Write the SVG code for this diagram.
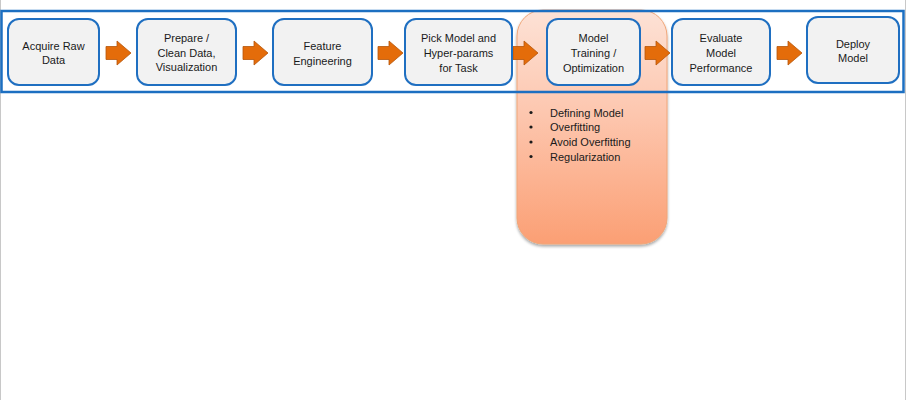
<svg xmlns="http://www.w3.org/2000/svg" width="907" height="400" viewBox="0 0 907 400">
<defs>
<linearGradient id="hl" x1="0" y1="0" x2="0" y2="1">
<stop offset="0" stop-color="#fde2d6"/>
<stop offset="0.45" stop-color="#fdc6ae"/>
<stop offset="1" stop-color="#fb9f74"/>
</linearGradient>
<filter id="sh" x="-10%" y="-10%" width="120%" height="120%">
<feGaussianBlur in="SourceAlpha" stdDeviation="1.5"/>
<feOffset dx="0" dy="2" result="b"/>
<feComponentTransfer><feFuncA type="linear" slope="0.35"/></feComponentTransfer>
<feMerge><feMergeNode/><feMergeNode in="SourceGraphic"/></feMerge>
</filter>
<path id="arr" d="M0,-6.5 H11 V-12 L25,0 L11,12 V6.5 H0 Z"/>
</defs>
<style>
.node rect{fill:#f2f2f2;stroke:#1f6fc1;stroke-width:2}
text{font-family:"Liberation Sans",Arial,sans-serif;font-size:11px;fill:#1a1a1a}
.c{text-anchor:middle}
.a use{fill:#e46c0a;stroke:#b5560a;stroke-width:0.8}
</style>
<rect x="0" y="0" width="907" height="400" fill="#ffffff"/>
<line x1="0.5" y1="0" x2="0.5" y2="400" stroke="#c8c8c8" stroke-width="1"/>
<line x1="905.5" y1="0" x2="905.5" y2="400" stroke="#c8c8c8" stroke-width="1"/>
<g id="highlight">
<rect x="517" y="10" width="150" height="234" rx="26" fill="url(#hl)" stroke="#f0a678" stroke-width="1" filter="url(#sh)"/>
<g id="bullets">
<circle cx="531" cy="112.5" r="1.6" fill="#1a1a1a"/>
<circle cx="531" cy="127" r="1.6" fill="#1a1a1a"/>
<circle cx="531" cy="142" r="1.6" fill="#1a1a1a"/>
<circle cx="531" cy="156.5" r="1.6" fill="#1a1a1a"/>
<text x="550" y="116.5">Defining Model</text>
<text x="550" y="131">Overfitting</text>
<text x="550" y="146">Avoid Overfitting</text>
<text x="550" y="160.5">Regularization</text>
</g>
</g>
<rect id="frame" x="1.5" y="11" width="902" height="81" fill="none" stroke="#1c6fc1" stroke-width="2.5"/>
<g id="connectors" class="a">
<use href="#arr" x="106" y="53"/>
<use href="#arr" x="243" y="53"/>
<use href="#arr" x="378" y="53"/>
<use href="#arr" x="513" y="53"/>
<use href="#arr" x="645" y="53"/>
<use href="#arr" x="777" y="53"/>
</g>
<g id="n1" class="node"><rect x="8" y="19" width="91" height="66" rx="11"/>
<text class="c" x="53.5" y="49.5">Acquire Raw</text><text class="c" x="53.5" y="64">Data</text></g>
<g id="n2" class="node"><rect x="137" y="19" width="99" height="66" rx="11"/>
<text class="c" x="186.5" y="42">Prepare /</text><text class="c" x="186.5" y="56.5">Clean Data,</text><text class="c" x="186.5" y="71">Visualization</text></g>
<g id="n3" class="node"><rect x="273" y="19" width="99" height="66" rx="11"/>
<text class="c" x="322.5" y="50">Feature</text><text class="c" x="322.5" y="64.5">Engineering</text></g>
<g id="n4" class="node"><rect x="405" y="19" width="107" height="66" rx="11"/>
<text class="c" x="458.5" y="42">Pick Model and</text><text class="c" x="458.5" y="57">Hyper-params</text><text class="c" x="458.5" y="72">for Task</text></g>
<g id="n5" class="node"><rect x="547" y="19" width="93" height="66" rx="11"/>
<text class="c" x="593.5" y="42">Model</text><text class="c" x="593.5" y="57">Training /</text><text class="c" x="593.5" y="72">Optimization</text></g>
<g id="n6" class="node"><rect x="672" y="19" width="98" height="66" rx="11"/>
<text class="c" x="721" y="42">Evaluate</text><text class="c" x="721" y="57">Model</text><text class="c" x="721" y="72">Performance</text></g>
<g id="n7" class="node"><rect x="807" y="17" width="92" height="66" rx="11"/>
<text class="c" x="853" y="47.5">Deploy</text><text class="c" x="853" y="62">Model</text></g>
</svg>
